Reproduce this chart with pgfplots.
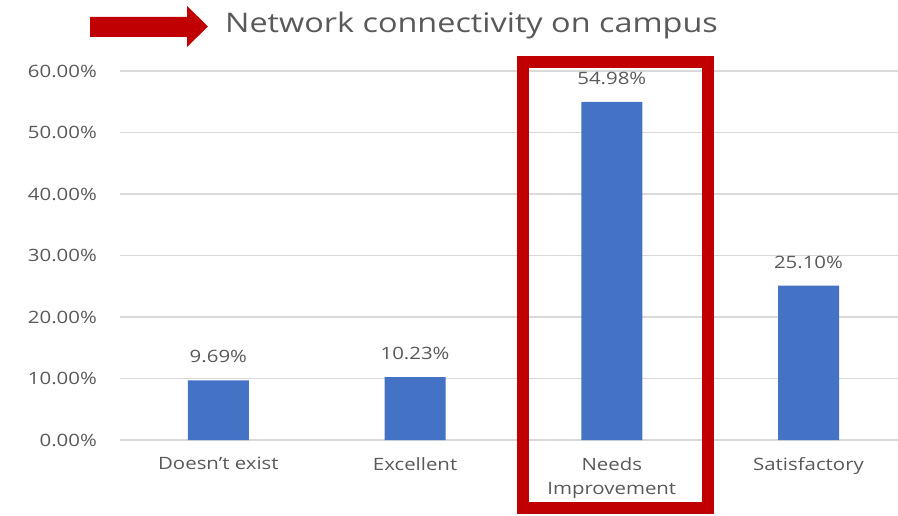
\documentclass[border=0pt]{standalone}
\usepackage{fontspec}
\setmainfont{Open Sans}[FakeStretch=1.2]
\usepackage{pgfplots}
\pgfplotsset{compat=1.18}
\definecolor{barblue}{HTML}{4472C4}
\definecolor{hlred}{HTML}{C00000}
\definecolor{txtgray}{HTML}{595959}
\definecolor{gridgray}{HTML}{D9D9D9}
\newcommand{\lblfont}{\fontsize{17}{24.5}\selectfont}
\begin{document}
\begin{tikzpicture}
\useasboundingbox (0pt,0pt) rectangle (898pt,515pt);
\begin{axis}[
    at={(120pt,75pt)}, anchor=south west,
    scale only axis, width=778pt, height=369pt,
    xmin=-0.5, xmax=3.455, ymin=0, ymax=60,
    clip=false,
    ybar, bar width=61pt,
    axis line style={draw=none},
    major tick length=0pt,
    ymajorgrids, grid style={gridgray, line width=1.2pt},
    ytick={0,10,...,60},
    yticklabels={0.00\%,10.00\%,20.00\%,30.00\%,40.00\%,50.00\%,60.00\%},
    xtick={0,1,2,3},
    xticklabels={Doesn't exist, Excellent, {Needs\\Improvement}, Satisfactory},
    every tick label/.append style={font=\lblfont, text=txtgray, inner sep=0pt},
    yticklabel style={xshift=-23pt},
    xticklabel style={align=center, anchor=north, yshift=-17pt},
    /pgf/number format/assume math mode=true,
    nodes near coords={\pgfmathprintnumber[fixed,fixed zerofill,precision=2]{\pgfplotspointmeta}\%},
    every node near coord/.append style={font=\lblfont, text=txtgray, inner sep=0pt, anchor=south, yshift=17pt},
]
\addplot[fill=barblue, draw=none] coordinates {
    (0,9.69)
    (1,10.23)
    (2,54.98)
    (3,25.10)
};
\end{axis}
% title and the red highlight marks
\node[anchor=base, font=\fontsize{27}{30}\selectfont, text=txtgray] at (471.5pt,482pt) {Network connectivity on campus};
\fill[hlred] (90pt,498pt) -- (187pt,498pt) -- (187pt,509pt) -- (208pt,488.5pt)
    -- (187pt,468pt) -- (187pt,478pt) -- (90pt,478pt) -- cycle;
\draw[hlred, line width=12pt] (522.5pt,7pt) rectangle (708pt,453pt);
\end{tikzpicture}
\end{document}
